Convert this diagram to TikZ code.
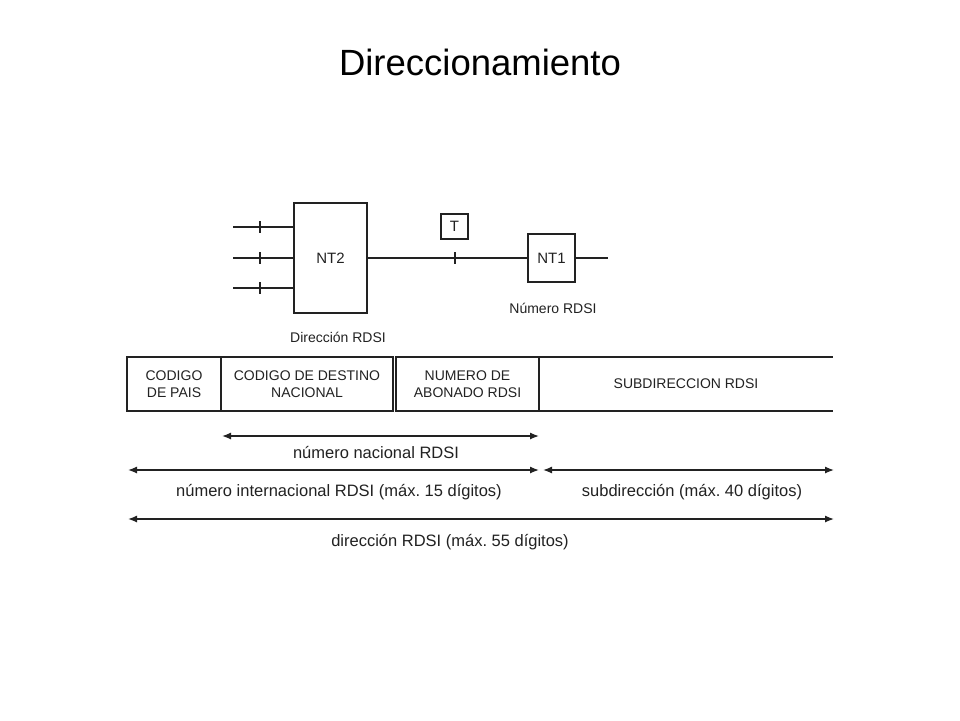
\documentclass[tikz,border=0pt]{standalone}
\usepackage{fontspec}
\setmainfont{Liberation Sans}
\usetikzlibrary{arrows.meta}
\definecolor{ink}{HTML}{222222}
\frenchspacing
\begin{document}
\begin{tikzpicture}[x=1pt,y=-1pt,
  every node/.style={inner sep=0pt,outer sep=0pt,text=ink},
  ln/.style={draw=ink,line width=1.3pt},
  unit/.style={draw=ink,line width=1.3pt,font=\fontsize{15}{17}\selectfont},
  field/.style={draw=ink,line width=1.3pt,minimum height=54pt,align=center,font=\fontsize{14}{16.5}\selectfont},
  small/.style={font=\fontsize{14}{16}\selectfont},
  lab/.style={font=\fontsize{16.5}{19}\selectfont},
  dim/.style={draw=ink,line width=1.3pt,{Latex[length=9pt,width=7pt]}-{Latex[length=9pt,width=7pt]}}
]
\useasboundingbox (0,0) rectangle (960,720);
\fill[white] (0,0) rectangle (960,720);

% title
\node[font=\fontsize{36.5}{40}\selectfont,text=black] (title) at (480,62) {Direccionamiento};

% upper part
\node[unit,minimum width=73pt,minimum height=110pt] (nt2) at (330.5,258) {NT2};
\node[unit,minimum width=47pt,minimum height=48pt] (nt1) at (551.5,258) {NT1};
\node[unit,minimum width=27pt,minimum height=25pt] (t) at (454.5,226.5) {T};

\coordinate (a1) at (233,227);
\coordinate (a2) at (233,258);
\coordinate (a3) at (233,288);
\draw[ln] (a1) -- (a1 -| nt2.west);
\draw[ln] (a2) -- (a2 -| nt2.west);
\draw[ln] (a3) -- (a3 -| nt2.west);
\draw[ln] (260,221) -- (260,233);
\draw[ln] (260,252) -- (260,264);
\draw[ln] (260,282) -- (260,294);
\draw[ln] (nt2.east) -- (nt1.west);
\draw[ln] (455,252) -- (455,264);
\coordinate (rend) at (608,258);
\draw[ln] (nt1.east) -- (rend);

\node[small] (numrdsi) at (553,308) {Número RDSI};
\node[small] (dirrdsi) at (338,337) {Dirección RDSI};

% fields
\node[field,minimum width=94pt] (f1) at (174,384) {CODIGO\\DE PAIS};
\node[field,minimum width=172pt] (f2) at (307,384) {CODIGO DE DESTINO\\NACIONAL};
\node[field,minimum width=143pt] (f3) at (467.5,384) {NUMERO DE\\ABONADO RDSI};
\node[small,minimum width=294pt,minimum height=54pt] (f4) at (686,384) {SUBDIRECCION RDSI};
\draw[ln] (f3.north east) -- (f4.north east);
\draw[ln] (f3.south east) -- (f4.south east);

% dimension arrows
\coordinate (na) at (222,436);
\coordinate (nb) at (539,436);
\coordinate (ia) at (128,470);
\coordinate (ib) at (539,470);
\coordinate (sa) at (543,470);
\coordinate (sb) at (834,470);
\coordinate (da) at (128,519);
\coordinate (db) at (834,519);
\draw[dim] (na) -- (nb);
\draw[dim] (ia) -- (ib);
\draw[dim] (sa) -- (sb);
\draw[dim] (da) -- (db);

\node[lab] (lnac) at (376,452) {número nacional RDSI};
\node[lab] (lint) at (339,492) {número internacional RDSI (máx. 15 dígitos)};
\node[lab] (lsub) at (692,492) {subdirección (máx. 40 dígitos)};
\node[lab] (ldir) at (450,542) {dirección RDSI (máx. 55 dígitos)};
\end{tikzpicture}
\end{document}
